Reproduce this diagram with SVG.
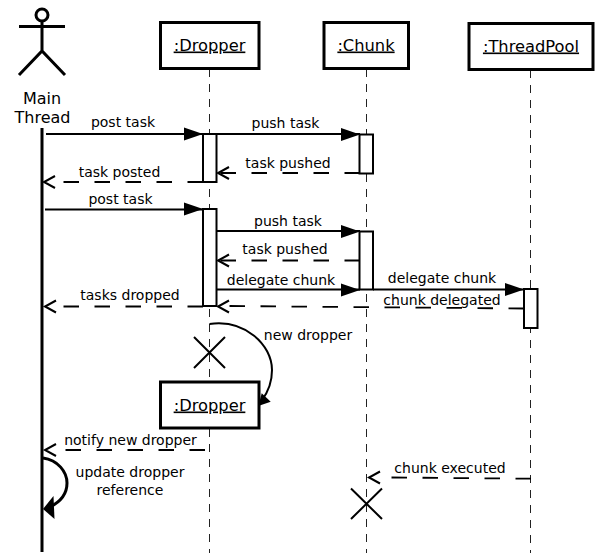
<svg xmlns="http://www.w3.org/2000/svg" width="597" height="553" viewBox="0 0 597 553">
<style>
text{font-family:"DejaVu Sans",sans-serif;font-size:14px;fill:#000;text-anchor:middle}
.big{font-size:16px}
.u{font-size:16.300px;text-decoration:underline}
.box{fill:#fff;stroke:#000;stroke-width:3}
.act{fill:#fff;stroke:#000;stroke-width:2}
.life{fill:none;stroke:#222;stroke-width:1;stroke-dasharray:8 7}
.sync{fill:none;stroke:#000;stroke-width:2}
.ret{fill:none;stroke:#000;stroke-width:1.800;stroke-dasharray:15.500 15.500}
.open{fill:none;stroke:#000;stroke-width:2}
.head{fill:#000;stroke:none}
.x{fill:none;stroke:#000;stroke-width:2}
</style>
<defs>
<path id="ah" class="head" d="M0 0L-19 -6.500V6.500Z"/>
<path id="oh" class="open" d="M11 -6L0 0L11 6"/>
</defs>
<g id="lifelines">
<path class="life" d="M209.500 69V553"/>
<path class="life" d="M366.500 69V553"/>
<path class="life" d="M530.500 70V553"/>
</g>
<g id="connectors">
<path class="sync" d="M46 134H203"/><use href="#ah" x="203" y="134"/>
<path class="sync" d="M216 134H360"/><use href="#ah" x="360" y="134.500"/>
<path class="ret" d="M360 173H218"/><use href="#oh" x="218" y="173"/>
<path class="ret" d="M203 182H62"/><use href="#oh" x="44" y="182"/>
<path class="sync" d="M45 209.500H203"/><use href="#ah" x="203" y="209"/>
<path class="sync" d="M216 231H360"/><use href="#ah" x="360" y="231.500"/>
<path class="ret" d="M360 260.500H218"/><use href="#oh" x="218" y="260.500"/>
<path class="sync" d="M216 289.500H360"/><use href="#ah" x="360" y="290"/>
<path class="sync" d="M373 289.500H524"/><use href="#ah" x="524" y="289.500"/>
<path class="ret" d="M524 308.500L229 306"/><use href="#oh" x="218" y="306.500"/>
<path class="ret" d="M203 306.500H62"/><use href="#oh" x="45" y="306.500"/>
<path class="sync" d="M209.500 324C245 319 272 345 272 370C272 383 268 392 262 400"/>
<path class="head" d="M258.300 406L261.700 393.300L270.700 401.700Z"/>
<path class="ret" d="M205 450H65"/><use href="#oh" x="45" y="450"/>
<path class="sync" style="stroke-width:3" d="M43 458C58 460 67 472 67 483C67 494 60 502 50 507"/>
<path class="head" d="M43 509L53.500 496L54.500 519Z"/>
<path class="ret" d="M531 478.700L391 477.500"/><use href="#oh" x="369" y="477.500"/>
</g>
<g id="main-thread">
<circle class="open" style="stroke-width:3" cx="42" cy="15" r="6"/>
<path class="x" style="stroke-width:3" d="M19 26.500H65M42 21V51M19 75L42 51L65 75"/>
<text class="big" x="42" y="103.500">Main</text>
<text class="big" x="42.500" y="123">Thread</text>
<path class="x" style="stroke-width:3" d="M42 128V552"/>
</g>
<g id="dropper">
<rect class="box" x="160.500" y="22.500" width="98.500" height="46"/>
<text class="u" x="209.500" y="50.500">:Dropper</text>
<rect class="act" x="203" y="134" width="13.500" height="48"/>
<rect class="act" x="203" y="209" width="13.500" height="97"/>
<path class="x" d="M194 337L225 368M225 337L194 368"/>
</g>
<g id="chunk">
<rect class="box" x="324" y="22.500" width="84.500" height="46"/>
<text class="u" x="366" y="50.500">:Chunk</text>
<rect class="act" x="359.500" y="134.500" width="13.500" height="39"/>
<rect class="act" x="359.500" y="231.500" width="13.500" height="58"/>
<path class="x" d="M351 488.500L382 519M382 488.500L351 519"/>
</g>
<g id="threadpool">
<rect class="box" x="469" y="23.500" width="124" height="46"/>
<text class="u" x="531" y="51.500">:ThreadPool</text>
<rect class="act" x="524" y="289" width="13.500" height="39"/>
</g>
<g id="dropper-2">
<rect class="box" x="160.500" y="382" width="98.500" height="46"/>
<text class="u" x="209.500" y="410.500">:Dropper</text>
</g>
<g id="labels">
<text x="123" y="127">post task</text>
<text x="285.500" y="128">push task</text>
<text x="288" y="168">task pushed</text>
<text x="119.500" y="176.500">task posted</text>
<text x="120.500" y="203.500">post task</text>
<text x="288" y="225.500">push task</text>
<text x="285" y="254">task pushed</text>
<text x="281" y="285">delegate chunk</text>
<text x="442" y="282.500">delegate chunk</text>
<text x="442" y="304.500">chunk delegated</text>
<text x="130" y="300">tasks dropped</text>
<text x="308" y="340">new dropper</text>
<text x="130.500" y="444.500">notify new dropper</text>
<text x="130" y="477">update dropper</text>
<text x="130" y="495">reference</text>
<text x="450" y="472.500">chunk executed</text>
</g>
</svg>
